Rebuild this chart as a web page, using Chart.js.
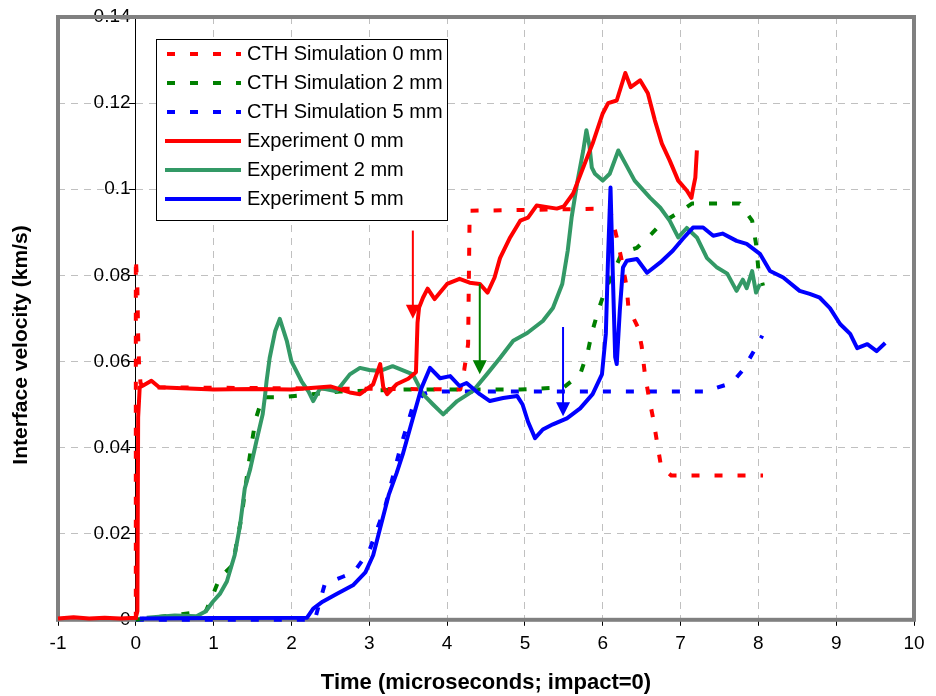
<!DOCTYPE html>
<html>
<head>
<meta charset="utf-8">
<title>Interface velocity</title>
<script src="https://cdn.jsdelivr.net/npm/chart.js@4.4.1/dist/chart.umd.min.js"></script>
<style>
  html, body { margin: 0; padding: 0; background: #fff; }
  #wrap { width: 936px; height: 696px; }
</style>
</head>
<body>
<div id="wrap"><canvas id="chart" width="936" height="696"></canvas></div>
<script>
// [time (microseconds), interface velocity (km/s)]
const simulation0 = [
  [0, 0], [0, 0.084], [0.02, 0.077], [0.03, 0.066], [0.04, 0.06], [0.06, 0.055], [0.1, 0.054],
  [4.17, 0.0535], [4.22, 0.058], [4.27, 0.064], [4.29, 0.095], [6.09, 0.0955],
  [6.18, 0.0888], [6.25, 0.083], [6.31, 0.077], [6.33, 0.0725], [6.45, 0.068], [6.5, 0.0636],
  [6.54, 0.0573], [6.59, 0.052], [6.65, 0.0466], [6.7, 0.041], [6.75, 0.0356], [6.88, 0.0335],
  [8.06, 0.0335]
];
const simulation2 = [
  [0, 0], [0.9, 0.002], [0.99, 0.0058], [1.08, 0.0098], [1.25, 0.0128], [1.3, 0.0184],
  [1.36, 0.024], [1.4, 0.0296], [1.44, 0.035], [1.49, 0.041], [1.54, 0.0466], [1.63, 0.0517],
  [1.86, 0.0517], [2.04, 0.052], [2.62, 0.053], [3.5, 0.0535], [4.94, 0.0535], [5.5, 0.054],
  [5.71, 0.057], [5.81, 0.0624], [5.86, 0.0666], [5.94, 0.0717], [6.02, 0.076], [6.25, 0.0853],
  [6.44, 0.0864], [6.63, 0.0897], [6.76, 0.0922], [6.95, 0.0943], [7.15, 0.0967], [7.76, 0.0967],
  [7.92, 0.0927], [7.97, 0.0873], [8.0, 0.0815], [8.06, 0.0776]
];
const simulation5 = [
  [0, 0], [2.3, 0], [2.43, 0.0084], [2.66, 0.01], [2.8, 0.011], [3.0, 0.016], [3.2, 0.026],
  [3.4, 0.04], [3.55, 0.049], [3.7, 0.0525], [3.8, 0.053], [7.35, 0.053], [7.45, 0.0538],
  [7.66, 0.055], [7.8, 0.058], [7.93, 0.062], [8.05, 0.066]
];
const experiment0 = [
  [-1, 0.0003], [-0.8, 0.0006], [-0.6, 0.0003], [-0.4, 0.0005], [-0.2, 0.0003], [0, 0.0005],
  [0.02, 0.002], [0.03, 0.047], [0.05, 0.054], [0.1, 0.0545], [0.2, 0.0555], [0.3, 0.054],
  [0.6, 0.0538], [1.0, 0.0535], [1.5, 0.0536], [2.0, 0.0535], [2.5, 0.0542], [2.75, 0.0528],
  [2.88, 0.0524], [3.05, 0.0547], [3.14, 0.0594], [3.18, 0.054], [3.23, 0.0524], [3.35, 0.0547],
  [3.5, 0.056], [3.6, 0.0575], [3.62, 0.069], [3.64, 0.0725], [3.69, 0.0748], [3.75, 0.0769],
  [3.84, 0.0745], [4.0, 0.078], [4.16, 0.0792], [4.29, 0.0783], [4.42, 0.078], [4.52, 0.076],
  [4.61, 0.0795], [4.68, 0.084], [4.81, 0.0888], [4.94, 0.0927], [5.04, 0.0934], [5.15, 0.0962],
  [5.41, 0.0955], [5.5, 0.096], [5.62, 0.099], [5.77, 0.106], [5.87, 0.1106], [6.0, 0.1176],
  [6.07, 0.12], [6.18, 0.1206], [6.29, 0.127], [6.36, 0.1237], [6.48, 0.1253], [6.58, 0.1223],
  [6.67, 0.116], [6.76, 0.1106], [6.86, 0.1067], [6.97, 0.102], [7.08, 0.0997], [7.14, 0.098],
  [7.16, 0.1], [7.19, 0.1027], [7.21, 0.109]
];
const experiment2 = [
  [0.14, 0.0005], [0.5, 0.001], [0.78, 0.0008], [0.9, 0.002], [0.99, 0.0042], [1.08, 0.006],
  [1.17, 0.0089], [1.27, 0.015], [1.34, 0.022], [1.4, 0.0305], [1.47, 0.035], [1.55, 0.0415],
  [1.63, 0.0477], [1.66, 0.052], [1.68, 0.0554], [1.72, 0.0608], [1.79, 0.067], [1.85, 0.0699],
  [1.94, 0.0648], [2.0, 0.06], [2.13, 0.0554], [2.22, 0.053], [2.28, 0.0508], [2.37, 0.0538],
  [2.58, 0.0531], [2.75, 0.057], [2.88, 0.0585], [3.0, 0.058], [3.14, 0.0578], [3.3, 0.0589],
  [3.56, 0.057], [3.69, 0.0524], [3.82, 0.05], [3.95, 0.0477], [4.13, 0.0508], [4.33, 0.0531],
  [4.51, 0.057], [4.68, 0.0608], [4.85, 0.0648], [5.03, 0.0666], [5.23, 0.0694], [5.36, 0.0724],
  [5.48, 0.078], [5.55, 0.0857], [5.6, 0.0934], [5.67, 0.1013], [5.75, 0.109], [5.79, 0.1137],
  [5.83, 0.11], [5.86, 0.105], [5.9, 0.1036], [6.0, 0.102], [6.09, 0.1036], [6.2, 0.109],
  [6.29, 0.106], [6.41, 0.102], [6.61, 0.098], [6.74, 0.0957], [6.86, 0.0927], [6.97, 0.0888],
  [7.08, 0.091], [7.21, 0.0888], [7.34, 0.084], [7.47, 0.0818], [7.6, 0.0804], [7.72, 0.0764],
  [7.8, 0.079], [7.85, 0.077], [7.92, 0.081], [7.97, 0.076], [8.02, 0.078]
];
const experiment5 = [
  [0.05, 0.0003], [1.0, 0.0004], [2.2, 0.0005], [2.28, 0.0026], [2.4, 0.0042], [2.58, 0.006],
  [2.79, 0.008], [2.95, 0.011], [3.05, 0.015], [3.15, 0.022], [3.25, 0.029], [3.35, 0.034],
  [3.43, 0.0384], [3.56, 0.0468], [3.67, 0.0538], [3.78, 0.0585], [3.91, 0.0561], [4.04, 0.0566],
  [4.16, 0.0543], [4.25, 0.055], [4.42, 0.0524], [4.55, 0.0508], [4.72, 0.0515], [4.9, 0.052],
  [4.97, 0.05], [5.04, 0.046], [5.13, 0.0422], [5.23, 0.0442], [5.36, 0.0454], [5.54, 0.0468],
  [5.71, 0.0491], [5.87, 0.0524], [5.99, 0.057], [6.04, 0.0664], [6.07, 0.085], [6.1, 0.1004],
  [6.13, 0.08], [6.16, 0.061], [6.18, 0.0594], [6.22, 0.072], [6.26, 0.0818], [6.31, 0.0834],
  [6.44, 0.0838], [6.57, 0.0806], [6.74, 0.083], [6.9, 0.0857], [7.03, 0.0885], [7.16, 0.0911],
  [7.29, 0.0911], [7.42, 0.0892], [7.54, 0.0897], [7.72, 0.088], [7.85, 0.0873], [8.02, 0.085],
  [8.15, 0.081], [8.32, 0.0795], [8.53, 0.0764], [8.66, 0.0757], [8.79, 0.0748], [8.92, 0.0724],
  [9.05, 0.0687], [9.18, 0.0664], [9.27, 0.0631], [9.4, 0.064], [9.52, 0.0624], [9.63, 0.0643]
];

// arrows marking arrival times: x position, top and tip velocity
const arrowX = [3.56, 4.42, 5.49];
const arrowTop = [0.0904, 0.078, 0.068];
const arrowTip = [0.0699, 0.057, 0.0473];
const arrowColors = ['#ff0000', '#008000', '#0000ff'];

const xTicks = { min: -1, max: 10, step: 1 };
const yTicks = { min: 0, max: 0.14, step: 0.02 };

const font = 'Liberation Sans, Arial, sans-serif';
const simDash = [8, 15];

function toPoints(rows) {
  return rows.map(r => ({ x: r[0], y: r[1] }));
}

function series(label, rows, color, dash) {
  return {
    label: label,
    data: toPoints(rows),
    borderColor: color,
    backgroundColor: color,
    borderWidth: 4,
    borderDash: dash || [],
    pointRadius: 0,
    fill: false,
    clip: 6
  };
}

// dataset 0 is drawn last (on top)
const datasets = [
  series('Experiment 5 mm', experiment5, '#0000ff'),
  series('Experiment 0 mm', experiment0, '#ff0000'),
  series('Experiment 2 mm', experiment2, '#339966'),
  series('CTH Simulation 0 mm', simulation0, '#ff0000', simDash),
  series('CTH Simulation 2 mm', simulation2, '#008000', simDash),
  series('CTH Simulation 5 mm', simulation5, '#0000ff', simDash)
];
const legendOrder = ['CTH Simulation 0 mm', 'CTH Simulation 2 mm', 'CTH Simulation 5 mm',
  'Experiment 0 mm', 'Experiment 2 mm', 'Experiment 5 mm'];

// grey frame round the plot area
const framePlugin = {
  id: 'frame',
  beforeDatasetsDraw(chart) {
    const a = chart.chartArea;
    const ctx = chart.ctx;
    ctx.save();
    ctx.strokeStyle = '#808080';
    ctx.lineWidth = 4;
    ctx.strokeRect(a.left, a.top, a.right - a.left, a.bottom - a.top);
    ctx.restore();
  }
};

const arrowPlugin = {
  id: 'arrows',
  afterDatasetsDraw(chart) {
    const ctx = chart.ctx;
    const xs = chart.scales.x, ys = chart.scales.y;
    ctx.save();
    arrowX.forEach((v, i) => {
      const px = xs.getPixelForValue(v);
      const top = ys.getPixelForValue(arrowTop[i]);
      const tip = ys.getPixelForValue(arrowTip[i]);
      ctx.strokeStyle = arrowColors[i];
      ctx.fillStyle = arrowColors[i];
      ctx.lineWidth = 2;
      ctx.beginPath();
      ctx.moveTo(px, top);
      ctx.lineTo(px, tip - 10);
      ctx.stroke();
      ctx.beginPath();
      ctx.moveTo(px - 7, tip - 14);
      ctx.lineTo(px + 7, tip - 14);
      ctx.lineTo(px, tip);
      ctx.closePath();
      ctx.fill();
    });
    ctx.restore();
  }
};

const legendPlugin = {
  id: 'boxLegend',
  afterDraw(chart) {
    const ctx = chart.ctx;
    ctx.save();
    ctx.fillStyle = '#fff';
    ctx.fillRect(156, 39, 291, 181);
    ctx.strokeStyle = '#000';
    ctx.lineWidth = 1;
    ctx.strokeRect(156.5, 39.5, 291, 181);
    ctx.font = '20px ' + font;
    ctx.textBaseline = 'middle';
    legendOrder.forEach((label, i) => {
      const ds = chart.data.datasets.find(d => d.label === label);
      const y = 54 + i * 29;
      ctx.strokeStyle = ds.borderColor;
      ctx.lineWidth = 4;
      ctx.setLineDash(ds.borderDash);
      ctx.lineDashOffset = -2;
      ctx.beginPath();
      ctx.moveTo(165, y);
      ctx.lineTo(241, y);
      ctx.stroke();
      ctx.setLineDash([]);
      ctx.fillStyle = '#000';
      ctx.fillText(label, 247, y);
    });
    ctx.restore();
  }
};

const yTitlePlugin = {
  id: 'yTitle',
  afterDraw(chart) {
    const ctx = chart.ctx;
    ctx.save();
    ctx.translate(21, 345);
    ctx.rotate(-Math.PI / 2);
    ctx.font = 'bold 21px ' + font;
    ctx.fillStyle = '#000';
    ctx.textAlign = 'center';
    ctx.textBaseline = 'middle';
    ctx.fillText('Interface velocity (km/s)', 0, 0);
    ctx.restore();
  }
};

new Chart(document.getElementById('chart'), {
  type: 'line',
  data: { datasets: datasets },
  options: {
    responsive: false,
    animation: false,
    devicePixelRatio: 1,
    layout: { padding: { left: 58, right: 22, top: 17, bottom: 0 } },
    plugins: { legend: { display: false }, tooltip: { enabled: false } },
    elements: { line: { tension: 0, borderJoinStyle: 'round' } },
    scales: {
      x: {
        type: 'linear',
        min: xTicks.min,
        max: xTicks.max,
        // Chart.js reserves the tick padding twice in the axis height
        ticks: { stepSize: xTicks.step, color: '#000', font: { size: 19, family: font }, padding: 7, maxRotation: 0, autoSkip: false },
        grid: { color: '#c0c0c0', tickColor: '#000', tickLength: 6 },
        border: { display: true, color: '#808080', width: 1, dash: [7, 6] },
        title: {
          display: true,
          text: 'Time (microseconds; impact=0)',
          color: '#000',
          font: { size: 22, weight: 'bold', family: font },
          padding: { top: 7, bottom: 0 }
        }
      },
      y: {
        type: 'linear',
        position: { x: 0 },
        min: yTicks.min,
        max: yTicks.max,
        ticks: {
          stepSize: yTicks.step,
          color: '#000',
          font: { size: 19, family: font },
          padding: 3,
          autoSkip: false,
          // the axis sits at x = 0 and labels are right-aligned on it, so pad them off the line
          callback: v => String(+v.toFixed(2)) + '\u00a0'
        },
        grid: { color: '#c0c0c0', tickColor: '#000', tickLength: 6 },
        border: { display: true, color: '#000', width: 1, dash: [7, 6] }
      }
    }
  },
  plugins: [framePlugin, arrowPlugin, legendPlugin, yTitlePlugin]
});
</script>
</body>
</html>
